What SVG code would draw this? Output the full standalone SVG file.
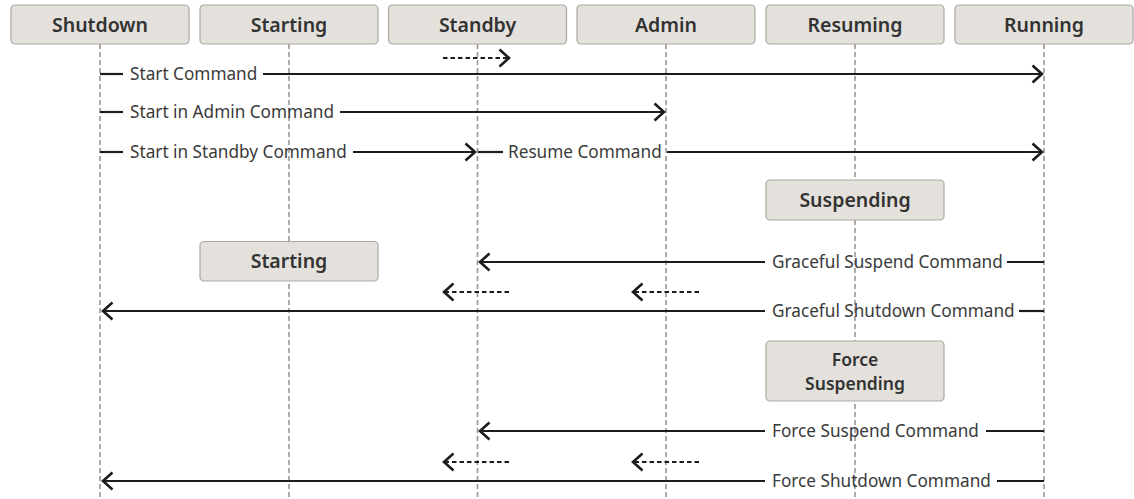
<svg xmlns="http://www.w3.org/2000/svg" width="1134" height="499" viewBox="0 0 1134 499">
<style>
.box{fill:#e4e1dc;stroke:#aba7a0;stroke-width:1.2}
.ht{font-family:"Noto Sans","Liberation Sans",sans-serif;font-size:19.5px;font-weight:600;fill:#333;text-anchor:middle}
.ht2{font-family:"Noto Sans","Liberation Sans",sans-serif;font-size:17.5px;font-weight:600;fill:#333;text-anchor:middle}
.lbl{font-family:"Noto Sans","Liberation Sans",sans-serif;font-size:17.2px;fill:#3a3a3a}
.life{stroke:#9a9793;stroke-width:1.6;stroke-dasharray:5 3;fill:none}
.ln{stroke:#1c1c1c;stroke-width:2.2;fill:none}
.dl{stroke:#1c1c1c;stroke-width:2.2;fill:none;stroke-dasharray:4.5 3}
</style>
<defs>
<marker id="ah" markerUnits="userSpaceOnUse" viewBox="-13 -11 16 22" markerWidth="16" markerHeight="22" refX="0" refY="0" orient="auto">
<path d="M-9.5,-8.5 L0,0 L-9.5,8.5" fill="none" stroke="#1c1c1c" stroke-width="2.6" stroke-linejoin="miter"/>
</marker>
</defs>
<rect width="1134" height="499" fill="#fff"/>
<g id="lifelines">
<line class="life" x1="100" y1="44" x2="100" y2="499"/>
<line class="life" x1="289" y1="44" x2="289" y2="499"/>
<line class="life" x1="477.5" y1="44" x2="477.5" y2="499"/>
<line class="life" x1="666" y1="44" x2="666" y2="499"/>
<line class="life" x1="855" y1="44" x2="855" y2="499"/>
<line class="life" x1="1044" y1="44" x2="1044" y2="499"/>
</g>
<g id="shutdown"><rect class="box" x="11" y="5" width="178" height="39" rx="4"/><text class="ht" x="100" y="31.5">Shutdown</text></g>
<g id="starting"><rect class="box" x="200" y="5" width="178" height="39" rx="4"/><text class="ht" x="289" y="31.5">Starting</text></g>
<g id="standby"><rect class="box" x="388.5" y="5" width="178" height="39" rx="4"/><text class="ht" x="477.5" y="31.5">Standby</text></g>
<g id="admin"><rect class="box" x="577" y="5" width="178" height="39" rx="4"/><text class="ht" x="666" y="31.5">Admin</text></g>
<g id="resuming"><rect class="box" x="766" y="5" width="178" height="39" rx="4"/><text class="ht" x="855" y="31.5">Resuming</text></g>
<g id="running"><rect class="box" x="955" y="5" width="178" height="39" rx="4"/><text class="ht" x="1044" y="31.5">Running</text></g>
<g id="suspending"><rect class="box" x="766" y="180" width="178" height="40" rx="4"/><text class="ht" x="855" y="207">Suspending</text></g>
<g id="starting2"><rect class="box" x="200" y="241.5" width="178" height="39.5" rx="4"/><text class="ht" x="289" y="268">Starting</text></g>
<g id="forcesuspending"><rect class="box" x="766" y="341" width="178" height="60" rx="4"/><text class="ht2" x="855" y="366"><tspan x="855" y="366">Force</tspan><tspan x="855" y="390">Suspending</tspan></text></g>
<g id="connectors">
<path class="dl" d="M443,58 H509" marker-end="url(#ah)"/>
<path class="ln" d="M100,74 H123"/>
<text class="lbl" x="130" y="80">Start Command</text>
<path class="ln" d="M263,74 H1042" marker-end="url(#ah)"/>
<path class="ln" d="M100,112 H123"/>
<text class="lbl" x="130" y="118">Start in Admin Command</text>
<path class="ln" d="M340,112 H664" marker-end="url(#ah)"/>
<path class="ln" d="M100,152 H123"/>
<text class="lbl" x="130" y="158">Start in Standby Command</text>
<path class="ln" d="M353,152 H475" marker-end="url(#ah)"/>
<path class="ln" d="M478,152 H503"/>
<text class="lbl" x="508" y="158">Resume Command</text>
<path class="ln" d="M667,152 H1042" marker-end="url(#ah)"/>
<path class="ln" d="M1044,262 H1007"/>
<text class="lbl" x="772" y="268">Graceful Suspend Command</text>
<path class="ln" d="M765,262 H480" marker-end="url(#ah)"/>
<path class="dl" d="M509,292 H444" marker-end="url(#ah)"/>
<path class="dl" d="M699,292 H633" marker-end="url(#ah)"/>
<path class="ln" d="M1044,311 H1019"/>
<text class="lbl" x="772" y="317">Graceful Shutdown Command</text>
<path class="ln" d="M765,311 H103" marker-end="url(#ah)"/>
<path class="ln" d="M1044,431 H986"/>
<text class="lbl" x="772" y="437">Force Suspend Command</text>
<path class="ln" d="M765,431 H480" marker-end="url(#ah)"/>
<path class="dl" d="M509,462 H444" marker-end="url(#ah)"/>
<path class="dl" d="M699,462 H633" marker-end="url(#ah)"/>
<path class="ln" d="M1044,481 H997"/>
<text class="lbl" x="772" y="487">Force Shutdown Command</text>
<path class="ln" d="M765,481 H103" marker-end="url(#ah)"/>
</g>
</svg>
